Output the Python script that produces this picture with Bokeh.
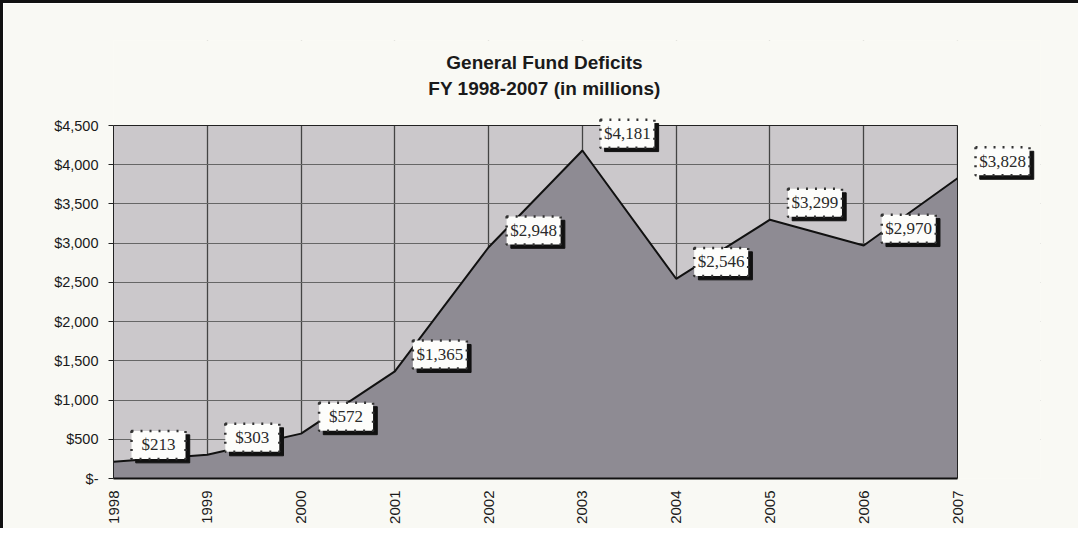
from bokeh.plotting import figure
from bokeh.models import (ColumnDataSource, FixedTicker,
                          NumeralTickFormatter, Range1d)
from bokeh.core.properties import value
from bokeh.transform import dodge
from bokeh.embed import file_html
from bokeh.resources import INLINE
import math

# ---- data ----
years = [1998, 1999, 2000, 2001, 2002, 2003, 2004, 2005, 2006, 2007]
deficits = [213, 303, 572, 1365, 2948, 4181, 2546, 3299, 2970, 3828]
labels = ["$213", "$303", "$572", "$1,365", "$2,948", "$4,181",
          "$2,546", "$3,299", "$2,970", "$3,828"]
y_ticks = [0, 500, 1000, 1500, 2000, 2500, 3000, 3500, 4000, 4500]
title_line1 = "General Fund Deficits"
title_line2 = "FY 1998-2007 (in millions)"

src = ColumnDataSource(dict(x=years, y=deficits, lab=labels))

PAPER = "#f9f9f4"
PLOTBG = "#cbc8cb"

# the frame extends right of the last year and above the top tick so the
# last data label and the title (drawn as text) are not clipped
xr = Range1d(years[0], years[-1] + 0.885)
yr = Range1d(y_ticks[0], y_ticks[-1] * 1.2408)
p = figure(width=1078, height=528, output_backend="svg", toolbar_location=None,
           x_range=xr, y_range=yr)
p.styles = {"border-top": "3px solid #111", "border-left": "3px solid #111"}
p.background_fill_color = PAPER
p.border_fill_color = PAPER
p.outline_line_color = None
p.min_border_left = 110
p.min_border_right = 41
p.min_border_top = 37
p.min_border_bottom = 53

# plot-area background (below grid)
p.quad(left=years[0], right=years[-1], bottom=y_ticks[0], top=y_ticks[-1],
       fill_color=PLOTBG, line_color=None, level="image")

# area + line
p.varea(x="x", y1=0, y2="y", source=src, fill_color="#8e8b93", fill_alpha=1)
p.line(x="x", y="y", source=src, line_color="#111111", line_width=2)

# paper over the grid outside the plot area, then the plot-area outline
p.quad(left=years[-1], right=xr.end + 1, bottom=yr.start - 1000, top=yr.end + 1000,
       fill_color=PAPER, line_color=None)
p.quad(left=xr.start - 1, right=xr.end + 1, bottom=y_ticks[-1], top=yr.end + 1000,
       fill_color=PAPER, line_color=None)
p.quad(left=years[0], right=years[-1], bottom=y_ticks[0], top=y_ticks[-1],
       fill_color=None, line_color="#222222", line_width=1)

# title
mid = (years[0] + years[-1]) / 2
p.text(x=[mid, mid], y=[y_ticks[-1], y_ticks[-1]], text=[title_line1, title_line2],
       x_offset=9, y_offset=[-63, -37], text_align="center", text_baseline="middle",
       text_font=value("Liberation Sans"), text_font_size="19px",
       text_font_style="bold", text_color="#1a1a1a")

# axes
p.yaxis.ticker = FixedTicker(ticks=y_ticks)
p.yaxis.bounds = (y_ticks[0], y_ticks[-1])
p.yaxis.formatter = NumeralTickFormatter(format="$0,0")
p.yaxis.major_label_overrides = {0: "$-"}
p.xaxis.ticker = FixedTicker(ticks=years)
p.xaxis.bounds = (years[0], years[-1])
p.xaxis.major_label_orientation = math.pi / 2
for ax in (p.xaxis[0], p.yaxis[0]):
    ax.major_label_text_font = "Liberation Sans"
    ax.major_label_text_color = "#1a1a1a"
    ax.minor_tick_line_color = None
    ax.major_tick_line_color = "#222222"
    ax.major_tick_in = 0
p.yaxis.major_label_text_font_size = "14.5px"
p.xaxis.major_label_text_font_size = "15px"
p.yaxis.major_tick_out = 5
p.yaxis.major_label_standoff = 10
p.yaxis.axis_line_color = "#222222"
p.xaxis.major_tick_out = 0
p.xaxis.axis_line_color = "#111111"
p.xaxis.axis_line_width = 2
p.xaxis.major_label_standoff = 12

p.xgrid.ticker = FixedTicker(ticks=years)
p.ygrid.ticker = FixedTicker(ticks=y_ticks)
p.xgrid.grid_line_color = "#444444"
p.xgrid.grid_line_width = 1.3
p.ygrid.grid_line_color = "#666666"

# data labels: shadow box, white dotted box, text (offset up-right of each point)
lx = dodge("x", 0.48, range=xr)
ly = dodge("y", 215, range=yr)
sx = dodge("x", 0.525, range=xr)
sy = dodge("y", 165, range=yr)
p.rect(x=sx, y=sy, width=54, height=28, width_units="screen",
       height_units="screen", source=src, fill_color="#111111",
       line_color="#111111")
p.rect(x=lx, y=ly, width=54, height=28, width_units="screen",
       height_units="screen", source=src, fill_color="#fdfdfb",
       line_color="#333333", line_dash="2 7", line_width=2.5)
p.text(x=lx, y=ly, text="lab", source=src,
       text_align="center", text_baseline="middle",
       text_font=value("Liberation Serif"), text_font_size="17px",
       text_color="#2a2a2a")

open("out.html", "w").write(file_html(p, INLINE))
